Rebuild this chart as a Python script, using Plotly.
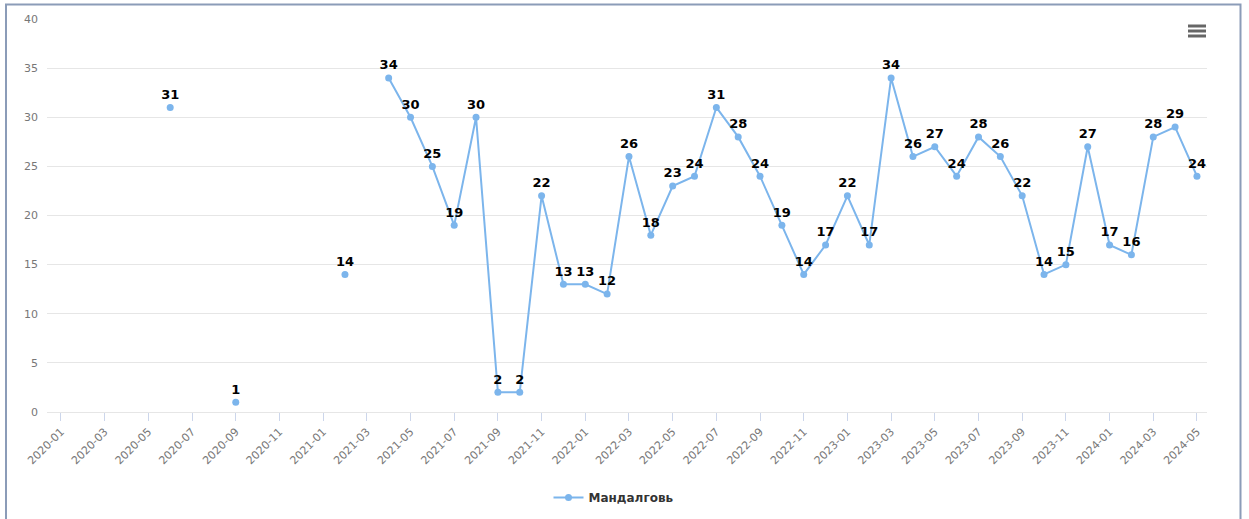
import plotly.graph_objects as go

# Monthly categories 2020-01 .. 2024-05
months = [f"{y}-{m:02d}" for y in range(2020, 2025) for m in range(1, 13)][:53]

# Monthly values for Мандалговь (None = no data for that month)
values_2020 = [None, None, None, None, None, 31, None, None, 1, None, None, None]
values_2021 = [None, 14, None, 34, 30, 25, 19, 30, 2, 2, 22, 13]
values_2022 = [13, 12, 26, 18, 23, 24, 31, 28, 24, 19, 14, 17]
values_2023 = [22, 17, 34, 26, 27, 24, 28, 26, 22, 14, 15, 27]
values_2024 = [17, 16, 28, 29, 24]
values = values_2020 + values_2021 + values_2022 + values_2023 + values_2024

series_name = "Мандалговь"
tick_labels = months[::2]
y_ticks = [0, 5, 10, 15, 20, 25, 30, 35, 40]

SERIES_COLOR = "#7cb5ec"

fig = go.Figure()
fig.add_trace(go.Scatter(
    x=months,
    y=values,
    mode="lines+markers+text",
    name=series_name,
    line=dict(color=SERIES_COLOR, width=2),
    marker=dict(color=SERIES_COLOR, size=7),
    text=["" if v is None else str(v) for v in values],
    textposition="top center",
    textfont=dict(family="DejaVu Sans", size=13, color="#000000", weight="bold"),
    connectgaps=False,
    cliponaxis=False,
))

# Plot-area geometry (pixels) used to place the frame and menu icon
L, R, T, B = 47, 42, 19, 107
W, H = 1249, 519
pw, ph = W - L - R, H - T - B


def px(x):
    return (x - L) / pw


def py(y):
    return (H - B - y) / ph


shapes = [
    # outer chart frame
    dict(type="rect", xref="paper", yref="paper",
         x0=px(6), x1=px(1240.5), y0=py(540), y1=py(4.5),
         line=dict(color="#8b9cb8", width=2), fillcolor="rgba(0,0,0,0)", layer="below"),
]
# context-menu icon (three bars)
for yy in (26, 31, 36):
    shapes.append(dict(type="line", xref="paper", yref="paper",
                       x0=px(1188), x1=px(1206), y0=py(yy), y1=py(yy),
                       line=dict(color="#666666", width=3)))

fig.update_layout(
    width=W, height=H,
    margin=dict(l=L, r=R, t=T, b=B, autoexpand=False),
    paper_bgcolor="white",
    plot_bgcolor="white",
    font=dict(family="DejaVu Sans", color="#666666"),
    showlegend=True,
    legend=dict(
        orientation="h", x=px(614), xanchor="center", y=py(483), yanchor="top",
        font=dict(family="DejaVu Sans", size=12, color="#333333", weight="bold"),
        itemwidth=30,
    ),
    shapes=shapes,
    xaxis=dict(
        type="category",
        categoryorder="array",
        categoryarray=months,
        range=[-0.64, 52.46],
        tickmode="array",
        tickvals=tick_labels,
        ticktext=tick_labels,
        tickangle=-45,
        tickfont=dict(size=11, color="#777777"),
        ticks="outside",
        ticklen=8,
        tickcolor="#ccd6eb",
        showgrid=False,
        showline=True,
        linecolor="#e6e6e6",
        linewidth=1,
        zeroline=False,
        automargin=False,
    ),
    yaxis=dict(
        range=[0, 40],
        tickmode="array",
        tickvals=y_ticks,
        tickfont=dict(size=11, color="#777777"),
        showgrid=True,
        gridcolor="#e6e6e6",
        gridwidth=1,
        zeroline=False,
        showline=False,
        ticklabelstandoff=8,
        automargin=False,
    ),
)

fig.write_html("out.html", config={"displayModeBar": False})
